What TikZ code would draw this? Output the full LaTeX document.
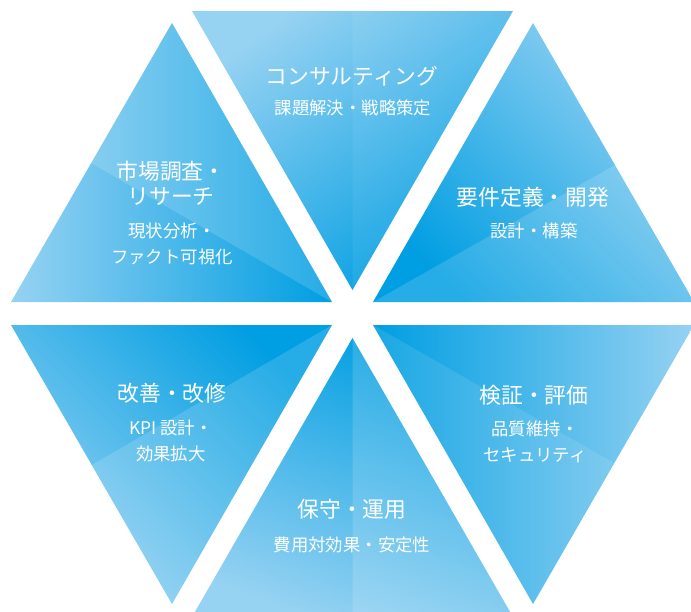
\documentclass[tikz,border=0pt]{standalone}
\usepackage{fontspec}
\setmainfont{Noto Sans CJK JP}
\definecolor{hexdark}{RGB}{0,158,226}
\definecolor{hexlight}{RGB}{150,210,242}
\tikzset{
  phase/.style={text=white, font=\fontsize{12.4}{14.2}\selectfont, align=center, inner sep=0pt},
  detail/.style={text=white, font=\fontsize{9.9}{14.6}\selectfont, align=center, inner sep=0pt},
  sheen/.style={fill=white, fill opacity=0.15}
}

\begin{document}
\begin{tikzpicture}[x=0.02cm,y=-0.02cm]
\useasboundingbox (0,0) rectangle (691,612);

\shade[top color=hexlight, bottom color=hexdark, shading angle=35] (192,11) -- (513,11) -- (352.5,290) -- cycle;
\fill[sheen, fill opacity=0.06] (352.5,11) -- (513,11) -- (352.5,290) -- cycle;

\shade[left color=hexlight, right color=hexdark] (172,23) -- (11,302) -- (332,302) -- cycle;
\fill[sheen] (172,23) -- (91,163) -- (332,302) -- cycle;

\shade[top color=hexlight, bottom color=hexdark, shading angle=-45] (533,23) -- (373,302) -- (694,302) -- cycle;
\fill[sheen] (615,165) -- (694,302) -- (373,302) -- cycle;

\shade[top color=hexlight, bottom color=hexdark, shading angle=135] (11,325) -- (332,325) -- (172,604) -- cycle;
\fill[sheen] (92,465) -- (172,604) -- (332,325) -- cycle;

\shade[top color=hexlight, bottom color=hexdark, shading angle=160] (352.5,338) -- (192,617) -- (513,617) -- cycle;
\fill[sheen] (352.5,338) -- (513,617) -- (352.5,617) -- cycle;

\shade[left color=hexdark, right color=hexlight] (373,325) -- (694,325) -- (533,604) -- cycle;
\fill[sheen, fill opacity=0.1] (373,325) -- (614,463) -- (533,604) -- cycle;

\node[phase] (consult) at (352,76) {コンサルティング};
\node[detail] (consultsub) at (353,108) {課題解決・戦略策定};

\node[phase] (research) at (171,183) {市場調査・\\リサーチ};
\node[detail] (researchsub) at (172,244) {現状分析・\\ファクト可視化};

\node[phase] (develop) at (533,197) {要件定義・開発};
\node[detail] (developsub) at (534,231) {設計・構築};

\node[phase] (improve) at (172,393) {改善・改修};
\node[detail] (improvesub) at (171,441) {KPI 設計・\\効果拡大};

\node[phase] (operate) at (352,509) {保守・運用};
\node[detail] (operatesub) at (352,545) {費用対効果・安定性};

\node[phase] (verify) at (534,395) {検証・評価};
\node[detail] (verifysub) at (535,442) {品質維持・\\セキュリティ};
\end{tikzpicture}
\end{document}
